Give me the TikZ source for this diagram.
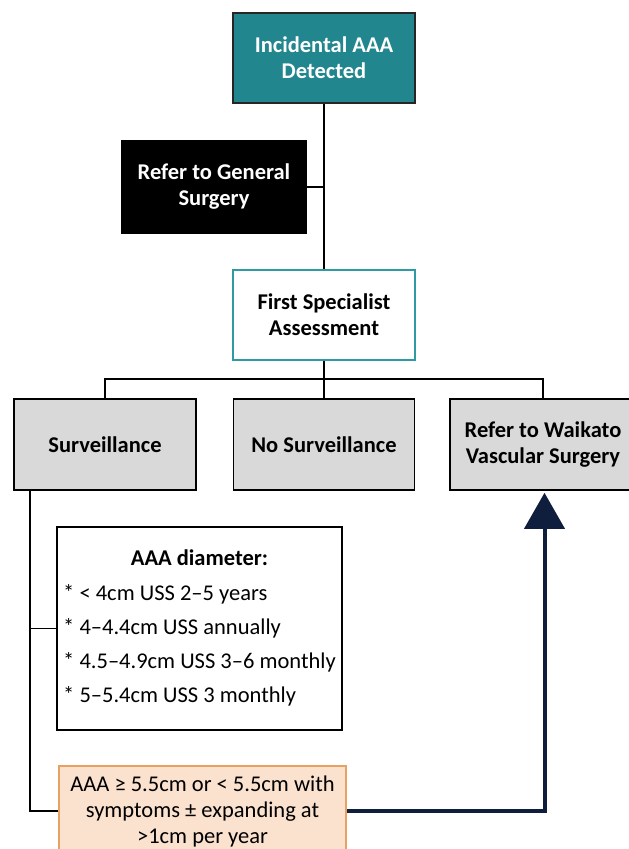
\documentclass[tikz,border=0pt]{standalone}
\usepackage{fontspec}
\setmainfont{Carlito}
\usetikzlibrary{arrows.meta,calc}
\definecolor{tealfill}{HTML}{22868F}
\definecolor{tealline}{HTML}{2E9AA3}
\definecolor{grayfill}{HTML}{D9D9D9}
\definecolor{peach}{HTML}{FBE2CF}
\definecolor{orangeline}{HTML}{E9A063}
\definecolor{navy}{HTML}{0F1E3C}
\begin{document}
\begin{tikzpicture}[x=1pt,y=-1pt,
  box/.style={draw, line width=1.6pt, inner sep=0pt, align=center,
    font=\fontsize{22.5}{26}\selectfont},
  hdr/.style={box, font=\fontsize{22.5}{26}\selectfont\bfseries},
  conn/.style={line width=1.8pt}]
\useasboundingbox (0,0) rectangle (629,849);
\fill[white] (0,0) rectangle (629,849);
\node[hdr, fill=tealfill, text=white, draw=black!85, minimum width=182, minimum height=90] (top) at (324,58) {Incidental AAA\\Detected};
\node[hdr, fill=black, text=white, minimum width=184, minimum height=92] (gen) at (214,187) {Refer to General\\Surgery};
\node[hdr, fill=white, draw=tealline, minimum width=182, minimum height=90] (first) at (324,315) {First Specialist\\Assessment};
\node[hdr, fill=grayfill, minimum width=182, minimum height=91] (surv) at (105,444.5) {Surveillance};
\node[hdr, fill=grayfill, minimum width=181, minimum height=91] (nosurv) at (324,444.5) {No Surveillance};
\node[hdr, fill=grayfill, minimum width=186, minimum height=91] (waik) at (543,444.5) {Refer to Waikato\\Vascular Surgery};
\node[box, fill=white, minimum width=285, minimum height=203] (diam) at (199.5,628.5) {%
  \begin{tabular}{@{}l@{}}
  \multicolumn{1}{@{}c@{}}{\bfseries AAA diameter:}\\[9pt]
  * < 4cm USS 2–5 years\\[8pt]
  * 4–4.4cm USS annually\\[8pt]
  * 4.5–4.9cm USS 3–6 monthly\\[8pt]
  * 5–5.4cm USS 3 monthly
  \end{tabular}};
\node[box, fill=peach, draw=orangeline, minimum width=287, minimum height=90] (orange) at (202.5,811) {AAA ≥ 5.5cm or < 5.5cm with\\symptoms ± expanding at\\>1cm per year};
% connectors
\coordinate (bus) at (324,379);
\coordinate (sv) at ($(surv.south west)+(17,0)$);
\coordinate (wk) at ($(waik.south)+(1.5,0)$);
\draw[conn] (top.south) -- (first.north);
\draw[conn] (gen.east) -- (gen.east -| top.south);
\draw[conn] (first.south) -- (bus);
\draw[conn] (surv.north) |- (bus) -| (waik.north);
\draw[conn] (bus) -- (nosurv.north);
\draw[conn] (sv) |- (orange.west);
\draw[conn] (diam.west) -- (diam.west -| sv);
\draw[navy, line width=4pt, -{Triangle[length=36pt,width=40pt]}, shorten >=2pt] (orange.east) -| (wk);
\end{tikzpicture}
\end{document}
